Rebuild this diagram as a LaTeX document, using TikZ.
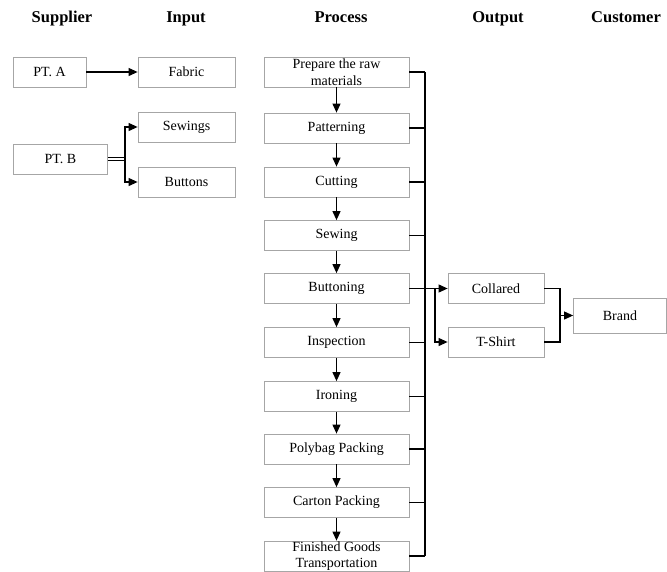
\documentclass[tikz,border=0pt]{standalone}
\usepackage{fontspec}
\setmainfont{Liberation Serif}
\usetikzlibrary{arrows.meta}
\begin{document}
\begin{tikzpicture}[x=1pt,y=-1pt,
  box/.style={draw=black!35,line width=0.8pt,inner sep=0pt,minimum height=30pt,align=center,font=\fontsize{14}{16.5}\selectfont},
  hdr/.style={font=\fontsize{16.5}{16.5}\selectfont\bfseries,anchor=base},
  con/.style={line width=1.1pt,black},
  arr/.style={con,-{Triangle[length=9pt,width=8pt]}}]
\useasboundingbox (0,0) rectangle (667,571);
% headers
\node[hdr] (hsup) at (62,22) {Supplier};
\node[hdr] (hin) at (186,22) {Input};
\node[hdr] (hpro) at (341,22) {Process};
\node[hdr] (hout) at (498,22) {Output};
\node[hdr] (hcus) at (626,22) {Customer};
% supplier / input
\node[box,minimum width=73pt] (ptA) at (49.5,72) {PT. A};
\node[box,minimum width=97pt] (fabric) at (186.5,72) {Fabric};
\node[box,minimum width=94pt] (ptB) at (60.5,159) {PT. B};
\node[box,minimum width=97pt] (sewings) at (186.5,127) {Sewings};
\node[box,minimum width=97pt] (buttons) at (186.5,182) {Buttons};
% process
\begin{scope}[every node/.append style={box,minimum width=145pt}]
\node (p1) at (336.5,72) {Prepare the raw\\materials};
\node (p2) at (336.5,128) {Patterning};
\node (p3) at (336.5,182) {Cutting};
\node (p4) at (336.5,235.5) {Sewing};
\node (p5) at (336.5,288.5) {Buttoning};
\node (p6) at (336.5,342.5) {Inspection};
\node (p7) at (336.5,396.5) {Ironing};
\node (p8) at (336.5,449) {Polybag Packing};
\node (p9) at (336.5,502.5) {Carton Packing};
\node (p10) at (336.5,556) {Finished Goods\\Transportation};
\end{scope}
% output / customer
\node[box,minimum width=96pt] (collared) at (496,288.5) {Collared};
\node[box,minimum width=96pt] (tshirt) at (496,342) {T-Shirt};
\node[box,minimum width=93pt,minimum height=35pt] (brand) at (620,315.5) {Brand};
% coordinates
\coordinate (bsplit) at (125,159);
\coordinate (busx) at (425,0);
\coordinate (osplit) at (435,288.5);
\coordinate (merge) at (560,315.5);
% supplier connectors
\draw[arr] (ptA) -- (fabric);
\draw[line width=0.9pt] ([yshift=1.3pt]ptB.east) -- ([yshift=1.3pt]bsplit);
\draw[line width=0.9pt] ([yshift=-1.3pt]ptB.east) -- ([yshift=-1.3pt]bsplit);
\draw[arr] (bsplit) |- (sewings.west);
\draw[arr] (bsplit) |- (buttons.west);
% process chain
\foreach \a/\b in {p1/p2,p2/p3,p3/p4,p4/p5,p5/p6,p6/p7,p7/p8,p8/p9,p9/p10}
  \draw[arr] (\a.south) -- (\b.north);
% bus
\foreach \p in {p1,p2,p3,p4,p5,p6,p7,p8,p9,p10}
  \draw[con] (\p.east) -- (\p.east -| busx);
\draw[con] (p1.east -| busx) -- (p10.east -| busx);
% outputs
\draw[arr] (p5.east) -- (collared.west);
\draw[arr] (osplit) |- (tshirt.west);
\draw[con] (collared.east) -| (merge);
\draw[con] (tshirt.east) -| (merge);
\draw[arr] (merge) -- (brand.west);
\end{tikzpicture}
\end{document}
